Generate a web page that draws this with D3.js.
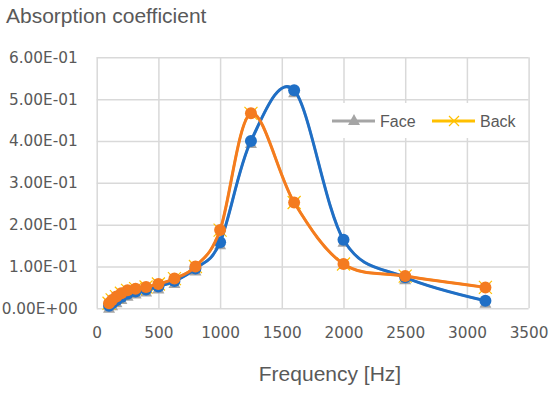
<!DOCTYPE html>
<html>
<head>
<meta charset="utf-8">
<script src="https://cdn.jsdelivr.net/npm/d3@7"></script>
<style>
  body { margin: 0; background: #fff; }
  svg { display: block; }
</style>
</head>
<body>
<script>
const freq = [100, 125, 160, 200, 250, 315, 400, 500, 630, 800, 1000, 1250, 1600, 2000, 2500, 3150];
const face = [0.006, 0.012, 0.019, 0.027, 0.035, 0.040, 0.045, 0.052, 0.065, 0.095, 0.158, 0.400, 0.521, 0.164, 0.074, 0.018];
const back = [0.012, 0.020, 0.028, 0.036, 0.043, 0.047, 0.051, 0.058, 0.071, 0.100, 0.187, 0.466, 0.253, 0.106, 0.077, 0.050];
const xTicks = [0, 500, 1000, 1500, 2000, 2500, 3000, 3500];
const yTicks = [0, 0.1, 0.2, 0.3, 0.4, 0.5, 0.6];

const width = 550;
const height = 393;
const margin = { top: 57.3, right: 21.4, bottom: 84.7, left: 96.7 };

const svg = d3.select('body')
    .append('svg')
    .attr('width', width)
    .attr('height', height);

const x = d3.scaleLinear().domain([0, 3500]).range([margin.left, width - margin.right]);
const y = d3.scaleLinear().domain([0, 0.6]).range([height - margin.bottom, margin.top]);

const textColor = '#595959';
const gridColor = '#d9d9d9';

// excel style 6.00E-01
const sci = (v) => {
    const [m, e] = v.toExponential(2).split('e');
    const n = Math.abs(+e);
    return m + 'E' + (+e < 0 ? '-' : '+') + (n < 10 ? '0' + n : n);
};

// gridlines
svg.append('g')
    .attr('transform', `translate(${margin.left},0)`)
    .call(d3.axisLeft(y).tickValues(yTicks).tickSize(-(width - margin.left - margin.right)).tickFormat(''))
    .call((g) => g.select('.domain').remove())
    .call((g) => g.selectAll('line').attr('stroke', gridColor).attr('stroke-width', 1.5));

svg.append('g')
    .attr('transform', `translate(0,${height - margin.bottom})`)
    .call(d3.axisBottom(x).tickValues(xTicks).tickSize(-(height - margin.top - margin.bottom)).tickFormat(''))
    .call((g) => g.select('.domain').remove())
    .call((g) => g.selectAll('line').attr('stroke', gridColor).attr('stroke-width', 1.5));

// tick labels
svg.append('g')
    .attr('transform', `translate(${margin.left},0)`)
    .call(d3.axisLeft(y).tickValues(yTicks).tickSize(0).tickPadding(19).tickFormat(sci))
    .call((g) => g.select('.domain').remove())
    .call((g) => g.selectAll('text')
        .attr('fill', textColor)
        .attr('font-family', 'DejaVu Sans')
        .attr('font-size', 15.3));

svg.append('g')
    .attr('transform', `translate(0,${height - margin.bottom})`)
    .call(d3.axisBottom(x).tickValues(xTicks).tickSize(0).tickPadding(19).tickFormat(d3.format('d')))
    .call((g) => g.select('.domain').remove())
    .call((g) => g.selectAll('text')
        .attr('fill', textColor)
        .attr('font-family', 'DejaVu Sans')
        .attr('font-size', 15.3));

// titles
svg.append('text')
    .attr('x', 6)
    .attr('y', 23)
    .attr('fill', textColor)
    .attr('font-family', 'Liberation Sans')
    .attr('font-size', 21)
    .text('Absorption coefficient');

svg.append('text')
    .attr('x', 330)
    .attr('y', 381)
    .attr('text-anchor', 'middle')
    .attr('fill', textColor)
    .attr('font-family', 'Liberation Sans')
    .attr('font-size', 21)
    .text('Frequency [Hz]');

// excel smoothing is close to a uniform catmull-rom
const curve = d3.curveCatmullRom.alpha(0);

const series = [
    { name: 'Face', values: face, color: '#a5a5a5', fit: '#1f6fc6', marker: 'tri' },
    { name: 'Back', values: back, color: '#ffc000', fit: '#f47b20', marker: 'x' }
];

const line = (vals) => d3.line().curve(curve)
    .x((d, i) => x(freq[i]))
    .y((d) => y(d))(vals);

const triPath = (cx, cy) => `M${cx},${cy - 4}L${cx + 6},${cy + 7}L${cx - 6},${cy + 7}Z`;
const xPath = (cx, cy, r) => `M${cx - r},${cy - r}L${cx + r},${cy + r}M${cx - r},${cy + r}L${cx + r},${cy - r}`;

// raw series (legend ones) under the fitted curves
series.forEach((s) => {
    const g = svg.append('g');
    g.append('path')
        .attr('d', line(s.values))
        .attr('fill', 'none')
        .attr('stroke', s.color)
        .attr('stroke-width', 2.5);
    if (s.marker === 'tri') {
        g.selectAll('path.m')
            .data(s.values)
            .join('path')
            .attr('class', 'm')
            .attr('d', (d, i) => triPath(x(freq[i]), y(d)))
            .attr('fill', s.color);
    } else {
        g.selectAll('path.m')
            .data(s.values)
            .join('path')
            .attr('class', 'm')
            .attr('d', (d, i) => xPath(x(freq[i]), y(d), 6.5))
            .attr('stroke', s.color)
            .attr('stroke-width', 1.2);
    }
});

series.forEach((s) => {
    const g = svg.append('g');
    g.append('path')
        .attr('d', line(s.values))
        .attr('fill', 'none')
        .attr('stroke', s.fit)
        .attr('stroke-width', 3);
    g.selectAll('circle')
        .data(s.values)
        .join('circle')
        .attr('cx', (d, i) => x(freq[i]))
        .attr('cy', (d) => y(d))
        .attr('r', 6)
        .attr('fill', s.fit);
});

// legend
const legend = svg.append('g').attr('transform', 'translate(328,103)');
legend.append('rect')
    .attr('width', 194)
    .attr('height', 35)
    .attr('fill', '#fff');

const item = legend.selectAll('g')
    .data(series)
    .join('g')
    .attr('transform', (d, i) => `translate(${4 + i * 100},18)`);

item.append('line')
    .attr('x1', 0)
    .attr('x2', 43)
    .attr('stroke', (d) => d.color)
    .attr('stroke-width', 3);

item.append('path')
    .attr('d', (d) => d.marker === 'tri' ? triPath(22, -3) : xPath(22, 0, 5))
    .attr('fill', (d) => d.marker === 'tri' ? d.color : 'none')
    .attr('stroke', (d) => d.marker === 'tri' ? 'none' : d.color)
    .attr('stroke-width', 1.2);

item.append('text')
    .attr('x', 48)
    .attr('y', 6)
    .attr('fill', textColor)
    .attr('font-family', 'Liberation Sans')
    .attr('font-size', 16)
    .text((d) => d.name);
</script>
</body>
</html>
